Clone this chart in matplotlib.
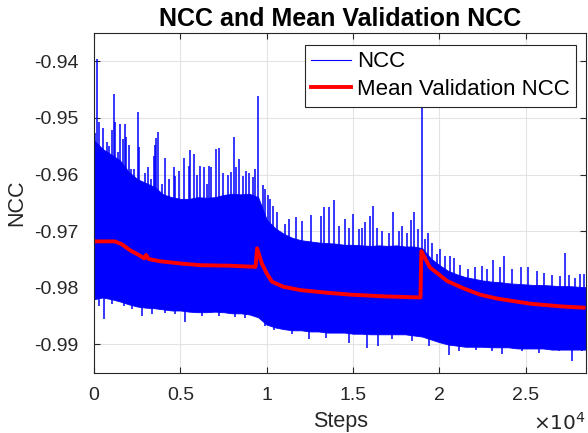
import matplotlib
matplotlib.use("Agg")
import matplotlib.pyplot as plt
from matplotlib.lines import Line2D
from matplotlib.ticker import FuncFormatter

plt.rcParams['font.family'] = ['Liberation Sans', 'DejaVu Sans']

# NCC per step: dense band (top and bottom edge every 500 steps)
band_steps = [0, 500, 1000, 1500, 2000, 2500, 3000, 3500, 4000, 4500,
              5000, 5500, 6000, 6500, 7000, 7500, 8000, 8500, 9000, 9500,
              10000, 10500, 11000, 11500, 12000, 12500, 13000, 13500, 14000, 14500,
              15000, 15500, 16000, 16500, 17000, 17500, 18000, 18500, 19000, 19500,
              20000, 20500, 21000, 21500, 22000, 22500, 23000, 23500, 24000, 24500,
              25000, 25500, 26000, 26500, 27000, 27500, 28000, 28500]
band_top = [-0.9540, -0.9555, -0.9565, -0.9575, -0.9595, -0.9608, -0.9615, -0.9622, -0.9635, -0.9640,
            -0.9643, -0.9643, -0.9640, -0.9641, -0.9640, -0.9636, -0.9634, -0.9635, -0.9634, -0.9640,
            -0.9680, -0.9695, -0.9705, -0.9712, -0.9716, -0.9718, -0.9720, -0.9721, -0.9722, -0.9724,
            -0.9724, -0.9725, -0.9726, -0.9725, -0.9726, -0.9725, -0.9727, -0.9727, -0.9730, -0.9748,
            -0.9760, -0.9770, -0.9776, -0.9781, -0.9784, -0.9787, -0.9789, -0.9790, -0.9792, -0.9793,
            -0.9794, -0.9795, -0.9795, -0.9796, -0.9797, -0.9797, -0.9798, -0.9799]
band_bottom = [-0.9820, -0.9817, -0.9820, -0.9824, -0.9829, -0.9833, -0.9835, -0.9836, -0.9838, -0.9840,
               -0.9840, -0.9842, -0.9843, -0.9843, -0.9842, -0.9843, -0.9845, -0.9845, -0.9847, -0.9852,
               -0.9865, -0.9870, -0.9873, -0.9875, -0.9875, -0.9877, -0.9877, -0.9879, -0.9879, -0.9879,
               -0.9881, -0.9881, -0.9882, -0.9882, -0.9882, -0.9882, -0.9882, -0.9884, -0.9886, -0.9891,
               -0.9896, -0.9900, -0.9902, -0.9904, -0.9904, -0.9904, -0.9905, -0.9905, -0.9905, -0.9907,
               -0.9907, -0.9907, -0.9907, -0.9909, -0.9909, -0.9909, -0.9909, -0.9909]

# single NCC steps poking out above the band
up_steps = [10, 75, 174, 307, 521, 655, 753, 886, 1043, 1176,
            1234, 1391, 1506, 1663, 1779, 1854, 2045, 2161, 2300, 2532,
            2590, 2972, 3111, 3320, 3476, 3552, 3610, 3691, 3940, 4114,
            4328, 4618, 4711, 4942, 5197, 5487, 5545, 5777, 5968, 6159,
            6356, 6547, 6680, 6796, 7069, 7225, 7457, 7764, 7955, 8112,
            8245, 8384, 8616, 8807, 8963, 9195, 9346, 9502, 9809, 9925,
            10064, 10215, 10353, 10603, 11049, 11281, 11704, 12052, 12573, 13112,
            13343, 13599, 13906, 14178, 14543, 14734, 14966, 15314, 15511, 15685,
            15991, 16148, 16380, 16670, 17052, 17307, 17631, 17828, 18118, 18367,
            18524, 18732, 19004, 19178, 19334, 19566, 19856, 20047, 20337, 20627,
            20818, 21206, 21629, 22075, 22463, 22753, 23101, 23524, 23715, 24202,
            24723, 25129, 25650, 26033, 26519, 27000, 27290, 27481, 27869, 28159,
            28350]
up_values = [-0.9461, -0.9526, -0.9396, -0.9508, -0.9518, -0.9561, -0.9543, -0.9550, -0.9522, -0.9457,
             -0.9508, -0.9561, -0.9510, -0.9538, -0.9511, -0.9534, -0.9547, -0.9591, -0.9591, -0.9490,
             -0.9552, -0.9597, -0.9587, -0.9608, -0.9567, -0.9547, -0.9535, -0.9525, -0.9617, -0.9570,
             -0.9608, -0.9586, -0.9603, -0.9594, -0.9570, -0.9585, -0.9557, -0.9563, -0.9600, -0.9585,
             -0.9586, -0.9617, -0.9585, -0.9586, -0.9555, -0.9554, -0.9597, -0.9601, -0.9596, -0.9533,
             -0.9586, -0.9573, -0.9603, -0.9593, -0.9597, -0.9605, -0.9591, -0.9461, -0.9619, -0.9626,
             -0.9636, -0.9644, -0.9656, -0.9667, -0.9688, -0.9679, -0.9675, -0.9682, -0.9672, -0.9673,
             -0.9657, -0.9658, -0.9645, -0.9691, -0.9679, -0.9694, -0.9670, -0.9697, -0.9694, -0.9684,
             -0.9673, -0.9656, -0.9694, -0.9700, -0.9703, -0.9666, -0.9700, -0.9691, -0.9703, -0.9680,
             -0.9667, -0.9697, -0.9440, -0.9714, -0.9703, -0.9720, -0.9741, -0.9732, -0.9743, -0.9744,
             -0.9747, -0.9759, -0.9767, -0.9764, -0.9762, -0.9767, -0.9751, -0.9764, -0.9743, -0.9767,
             -0.9763, -0.9763, -0.9771, -0.9773, -0.9778, -0.9779, -0.9738, -0.9778, -0.9782, -0.9776,
             -0.9776]

# single NCC steps poking out below the band
down_steps = [272, 597, 1043, 1721, 2202, 2781, 3361, 4131, 4711, 5290,
              6258, 7225, 8187, 8766, 9925, 10412, 11472, 12440, 13402, 14757,
              15818, 16455, 17266, 18425, 19393, 20551, 21131, 22093, 23060, 23640,
              24798, 25766, 26925, 27695, 28275]
down_values = [-0.9832, -0.9855, -0.9829, -0.9832, -0.9838, -0.9850, -0.9847, -0.9844, -0.9847, -0.9861,
               -0.9850, -0.9850, -0.9851, -0.9853, -0.9868, -0.9874, -0.9882, -0.9891, -0.9888, -0.9897,
               -0.9906, -0.9903, -0.9891, -0.9894, -0.9903, -0.9918, -0.9912, -0.9909, -0.9912, -0.9916,
               -0.9912, -0.9915, -0.9912, -0.9930, -0.9912]

# mean validation NCC
mean_steps = [0, 1200, 1600, 2100, 2650, 2900, 3010, 3150, 3800, 5000,
              6150, 7900, 9350, 9440, 9716, 10006, 10296, 10950, 11950, 13250,
              14850, 16750, 18900, 18950, 19450, 20450, 21400, 22350, 23350, 25250,
              27150, 28350]
mean_values = [-0.9718, -0.9718, -0.9723, -0.9734, -0.9743, -0.9748, -0.9742, -0.9749, -0.9753, -0.9757,
               -0.9760, -0.9761, -0.9763, -0.9730, -0.9757, -0.9775, -0.9789, -0.9798, -0.9804, -0.9808,
               -0.9812, -0.9815, -0.9817, -0.9735, -0.9764, -0.9788, -0.9801, -0.9812, -0.9819, -0.9828,
               -0.9833, -0.9835]

fig = plt.figure(figsize=(5.88, 4.33), dpi=100)
ax = fig.add_axes([0.160, 0.139, 0.837, 0.785])

blue = (0, 0, 1)
ax.fill_between(band_steps, band_bottom, band_top, color=blue, linewidth=0.6, edgecolor=blue)
ax.vlines(up_steps, -0.981, up_values, color=blue, linewidth=1.1)
ax.vlines(down_steps, -0.981, down_values, color=blue, linewidth=1.1)
ax.plot(mean_steps, mean_values, color=(1, 0, 0), linewidth=2.8, solid_joinstyle='round')

ax.set_xlim(0, 28500)
ax.set_ylim(-0.995, -0.935)
ax.set_xticks([0, 5000, 10000, 15000, 20000, 25000])
ax.xaxis.set_major_formatter(FuncFormatter(lambda v, p: f"{v / 1e4:g}"))
ax.set_yticks([-0.94, -0.95, -0.96, -0.97, -0.98, -0.99])
ax.yaxis.set_major_formatter(FuncFormatter(lambda v, p: f"{v:.2f}"))

ax.grid(True, color='#e3e3e3', linewidth=0.8)
ax.set_axisbelow(True)
for s in ax.spines.values():
    s.set_color('#262626')
    s.set_linewidth(0.8)
ax.tick_params(direction='in', top=True, right=True, length=4, width=0.8,
               colors='#262626', labelsize=14)
ax.tick_params(axis='x', pad=10)
ax.tick_params(axis='y', pad=11)

ax.set_title("NCC and Mean Validation NCC", fontsize=18, fontweight='bold', pad=5)
ax.set_xlabel("Steps", fontsize=15.5, color='#262626', labelpad=5)
ax.set_ylabel("NCC", fontsize=15.5, color='#262626', labelpad=5)
ax.text(1.0, -0.115, r"$\times10^{4}$", transform=ax.transAxes, ha='right', va='top',
        fontsize=14.5, color='#262626')

handles = [Line2D([], [], color=blue, linewidth=0.8),
           Line2D([], [], color=(1, 0, 0), linewidth=2.8)]
leg = ax.legend(handles, ["NCC", "Mean Validation NCC"], loc='upper right',
                bbox_to_anchor=(0.98, 0.965), fontsize=16, frameon=True, fancybox=False,
                framealpha=1, edgecolor='#262626', borderpad=0.3, labelspacing=0.3,
                handlelength=1.8, handletextpad=0.25, borderaxespad=0)
leg.get_frame().set_linewidth(0.8)

fig.savefig("out.png", dpi=100)
